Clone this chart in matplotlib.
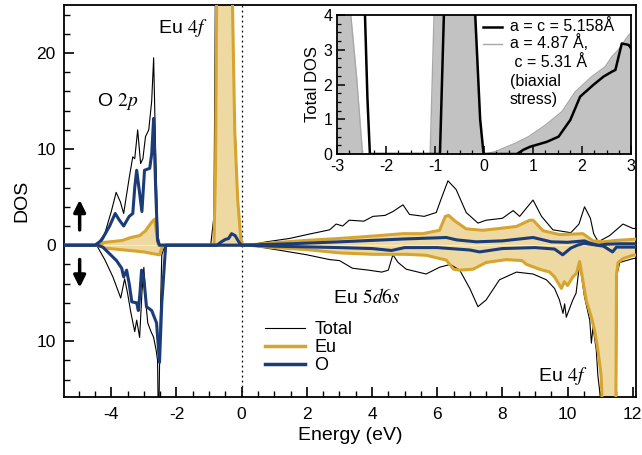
import numpy as np
import matplotlib
matplotlib.use("Agg")
import matplotlib.pyplot as plt
from matplotlib.lines import Line2D

plt.rcParams['font.family'] = ['Liberation Sans', 'DejaVu Sans']
plt.rcParams['mathtext.fontset'] = 'stix'
plt.rcParams['axes.unicode_minus'] = False

# ---- main panel data (spin up > 0, spin down < 0) ----
tot_up_e = [-5.6, -4.45, -4.2, -4.0, -3.85, -3.72, -3.62, -3.45, -3.34, -3.28, -3.19, -3.10, -3.03,
            -2.95, -2.85, -2.76, -2.70, -2.64, -2.57, -2.50, -0.95, -0.85, -0.78, -0.5, -0.35, -0.22,
            -0.12, -0.03, 0.03, 0.3, 0.76, 1.47, 2.0, 2.7, 2.9, 3.1, 3.3, 3.75, 4.03, 4.4, 4.64, 4.95,
            5.15, 5.6, 5.97, 6.13, 6.33, 6.58, 6.89, 7.25, 7.5, 8.0, 8.33, 8.53, 8.94, 9.2, 9.55, 10.1,
            10.35, 10.52, 10.7, 10.8, 10.94, 11.29, 11.7, 12.0, 12.2]
tot_up = [0, 0, 1.2, 3.5, 5.5, 4.5, 3.3, 7.0, 9.2, 9.0, 12.0, 8.5, 9.0,
          11.3, 12.0, 15.0, 19.5, 10.0, 1.0, 0, 0, 3, 40, 60, 40, 14,
          5, 1, 0, 0.05, 0.35, 0.7, 1.1, 1.6, 2.2, 2.0, 2.6, 2.5, 3.0, 3.1, 3.5, 4.2,
          3.2, 3.0, 3.4, 4.9, 6.7, 5.8, 3.4, 2.3, 2.6, 2.8, 3.6, 3.0, 4.7, 3.0, 1.6, 1.3,
          2.2, 4.0, 2.8, 1.2, 0.35, 1.0, 2.2, 1.75, 1.7]

tot_dn_e = [-5.6, -4.45, -4.2, -3.95, -3.71, -3.59, -3.5, -3.4, -3.28, -3.22, -3.13, -3.06, -3.0,
            -2.94, -2.88, -2.78, -2.70, -2.62, -2.58, -2.55, -2.50, -2.45, -2.35, 0.2, 0.76, 1.47,
            2.0, 2.7, 3.0, 3.4, 3.9, 4.3, 4.5, 4.64, 4.8, 5.05, 5.66, 6.07, 6.4, 6.69, 7.0, 7.25,
            7.5, 7.91, 8.43, 8.94, 9.35, 9.6, 9.75, 9.86, 9.91, 9.96, 10.16, 10.26, 10.37, 10.52,
            10.68, 10.73, 10.78, 10.88, 10.93, 11.03, 11.1, 11.45, 11.52, 11.6, 12.0, 12.2]
tot_dn = [0, 0, -1.5, -3.3, -5.5, -3.5, -5.0, -7.0, -9.0, -7.8, -9.6, -5.0, -2.3,
          -6.0, -8.1, -9.0, -9.6, -11, -12, -20, -8, -1, 0, 0, -0.3, -0.7,
          -1.0, -1.5, -1.6, -2.4, -2.6, -2.8, -2.6, -1.0, -1.8, -2.5, -3.0, -2.3, -2.0, -2.6, -4.5, -6.4,
          -5.7, -3.6, -2.8, -3.0, -3.6, -4.5, -5.7, -7.1, -6.1, -7.5, -5.7, -5.0, -1.9, -5.4,
          -7.8, -10.2, -8.5, -10.9, -13.6, -16.5, -30, -40, -3, -1.8, -1.4, -1.3]

eu_up_e = [-5.6, -4.4, -4.2, -3.9, -3.65, -3.4, -3.13, -2.95, -2.76, -2.67, -2.60, -2.55, -0.85,
           -0.80, -0.76, -0.5, -0.36, -0.21, -0.12, -0.03, 0.03, 0.5, 0.97, 1.98, 3.0, 4.03, 4.95,
           5.56, 6.07, 6.25, 6.35, 6.55, 6.89, 7.4, 7.8, 8.43, 8.84, 8.94, 9.25, 9.76, 10.47, 10.78,
           11.1, 11.5, 12.2]
eu_up = [0, 0, 0.3, 0.4, 0.5, 0.8, 1.0, 1.5, 2.4, 2.7, 1.0, 0, 0,
         8, 30, 60, 40, 11.7, 4.7, 0.8, 0, 0.1, 0.25, 0.5, 0.7, 0.95, 1.2,
         1.2, 1.55, 3.0, 3.1, 2.5, 1.7, 1.55, 1.7, 1.95, 2.6, 2.6, 1.5, 1.1, 1.2, 0.45,
         0.35, 0.5, 0.65]

eu_dn_e = [-5.6, -4.42, -4.2, -3.9, -3.6, -3.3, -3.0, -2.7, -2.52, -2.45, -2.4, 0.2, 0.97, 1.98,
           3.0, 4.03, 5.05, 5.66, 6.28, 6.5, 6.69, 7.1, 7.5, 8.12, 8.6, 8.74, 9.14, 9.45, 9.6, 9.81,
           9.9, 10.0, 10.16, 10.27, 10.37, 10.57, 10.73, 10.83, 10.93, 11.03, 11.1, 11.2, 11.45,
           11.5, 11.55, 11.7, 12.0, 12.2]
eu_dn = [0, 0, -0.3, -0.4, -0.5, -0.6, -0.7, -0.9, -1.0, -0.3, 0, 0, -0.25, -0.45,
         -0.8, -0.95, -0.95, -1.05, -1.55, -2.5, -2.6, -2.5, -1.8, -1.5, -1.6, -2.0, -2.5, -2.8, -3.3, -4.5,
         -3.8, -4.2, -3.3, -2.95, -1.7, -5.7, -7.5, -8.9, -10.9, -13.6, -20, -40, -40,
         -3, -1.8, -1.4, -1.05, -1.0]

o_up_e = [-5.6, -4.5, -4.3, -4.05, -3.88, -3.75, -3.62, -3.45, -3.34, -3.28, -3.22, -3.13, -3.06,
          -2.98, -2.82, -2.76, -2.70, -2.64, -2.58, -2.52, -0.76, -0.6, -0.5, -0.4, -0.31, -0.2,
          -0.08, 0.0, 0.5, 1.5, 3.0, 4.0, 5.0, 6.28, 6.6, 7.2, 8.0, 8.94, 9.5, 10.0, 10.52, 10.7,
          10.94, 11.2, 11.6, 12.2]
o_up = [0, 0, 0.5, 2.0, 3.3, 2.6, 2.0, 3.0, 3.3, 6.0, 7.8, 5.4, 3.5,
        7.8, 8.0, 9.5, 13.2, 6, 0.5, 0, 0, 0.4, 0.6, 0.7, 1.2, 1.0,
        0.3, 0, 0.05, 0.15, 0.35, 0.5, 0.65, 0.8, 0.55, 0.35, 0.45, 0.8, 0.35, 0.3, 0.45, 0.2,
        0.0, 0.1, 0.15, 0.15]

o_dn_e = [-5.6, -4.42, -4.26, -4.05, -3.84, -3.68, -3.62, -3.53, -3.45, -3.37, -3.22, -3.17, -3.12,
          -3.07, -3.0, -2.92, -2.76, -2.61, -2.52, -2.45, -2.33, 0.2, 0.97, 3.0, 4.0, 4.6, 5.0, 6.0,
          7.0, 7.3, 8.0, 9.0, 9.6, 9.85, 10.1, 10.3, 10.5, 10.8, 11.1, 11.38, 11.5, 12.2]
o_dn = [0, 0, -0.2, -0.9, -1.6, -2.4, -3.3, -2.6, -4.0, -5.9, -6.0, -6.8, -5.0,
        -2.6, -3.5, -6.4, -6.8, -8.1, -12.2, -6, 0, 0, -0.1, -0.25, -0.35, -0.55, -0.25, -0.25,
        -0.5, -0.7, -0.35, -0.25, -0.4, -1.0, -0.3, 0.0, 0.2, 0.05, -0.1, -0.7, -0.2, -0.2]

# ---- inset data (total DOS near the gap) ----
ins_a_e = [-3.0, -2.6, -2.43, -2.38, -2.33, -0.90, -0.86, -0.82, -0.6, -0.3, -0.18, -0.08, -0.01,
           0.67, 0.8, 0.94, 1.28, 1.52, 1.76, 1.96, 2.23, 2.44, 2.61, 2.68, 2.81, 2.95, 3.0]
ins_a = [12, 8, 4, 1.6, 0, 0, 2.0, 4, 8, 8, 4, 1.0, 0,
         0, 0.12, 0.21, 0.35, 0.5, 0.98, 1.65, 1.99, 2.23, 2.37, 2.42, 3.18, 3.14, 3.04]
ins_b_e = [-3.0, -2.72, -2.6, -2.48, -1.10, -1.02, -0.6, -0.2, -0.1, -0.03, 0.08, 0.23, 0.64, 0.91,
           1.25, 1.59, 1.86, 2.2, 2.47, 2.61, 2.74, 2.95, 3.0]
ins_b = [12, 4, 2.2, 0, 0, 4, 10, 4, 1.5, 0, 0.02, 0.07, 0.31, 0.5,
         0.83, 1.22, 1.79, 2.23, 2.51, 2.8, 3.0, 3.42, 3.47]

gold = '#d6a530'
gold_fill = '#efd9a2'
navy = '#1c3c78'
grey_line = '#a8a8a8'

fig = plt.figure(figsize=(6.42, 4.55), dpi=100)
ax = fig.add_axes([0.0997, 0.1275, 0.8910, 0.8615])

ax.fill_between(eu_up_e, eu_up, 0, color=gold_fill, lw=0, zorder=1)
ax.fill_between(eu_dn_e, eu_dn, 0, color=gold_fill, lw=0, zorder=1)
ax.plot(tot_up_e, tot_up, color='black', lw=0.8, zorder=2)
ax.plot(tot_dn_e, tot_dn, color='black', lw=0.8, zorder=2)
ax.plot(eu_up_e, eu_up, color=gold, lw=2.2, zorder=3)
ax.plot(eu_dn_e, eu_dn, color=gold, lw=2.2, zorder=3)
ax.plot(o_up_e, o_up, color=navy, lw=2.2, zorder=4)
ax.plot(o_dn_e, o_dn, color=navy, lw=2.2, zorder=4)
ax.axvline(0, color='black', lw=0.9, ls=(0, (1.5, 2.5)), zorder=0)

ax.set_xlim(-5.45, 12.1)
ax.set_ylim(-15.8, 25)
ax.set_xticks([-4, -2, 0, 2, 4, 6, 8, 10, 12])
ax.set_xticks(np.arange(-5, 12.01, 0.5), minor=True)
ax.set_yticks([-10, 0, 10, 20])
ax.set_yticklabels(['10', '0', '10', '20'])
ax.set_yticks(np.arange(-14, 25, 2), minor=True)
ax.tick_params(which='both', direction='in', labelsize=12.5, top=False, right=False)
ax.tick_params(axis='x', which='major', pad=7)
ax.tick_params(axis='y', which='major', pad=6)
ax.tick_params(which='major', length=7, width=1.2)
ax.tick_params(which='minor', length=4, width=1.0)
for s in ax.spines.values():
    s.set_linewidth(1.3)
ax.set_xlabel('Energy (eV)', fontsize=14, labelpad=4)
ax.set_ylabel('DOS', fontsize=14, labelpad=4)

ax.text(-2.58, 22.6, r'Eu $\mathit{4f}$', fontsize=14, va='center')
ax.text(-4.45, 15.0, r'O $\mathit{2p}$', fontsize=14, va='center')
ax.text(2.8, -5.4, r'Eu $\mathit{5d6s}$', fontsize=14, va='center')
ax.text(9.1, -13.6, r'Eu $\mathit{4f}$', fontsize=14, va='center')

ax.annotate('', xy=(-4.97, 5.0), xytext=(-4.97, 1.3),
            arrowprops=dict(arrowstyle='-|>,head_width=0.35,head_length=0.7', color='black', lw=2.5))
ax.annotate('', xy=(-4.97, -4.7), xytext=(-4.97, -1.2),
            arrowprops=dict(arrowstyle='-|>,head_width=0.35,head_length=0.7', color='black', lw=2.5))

handles = [Line2D([], [], color='black', lw=0.8),
           Line2D([], [], color=gold, lw=2.5),
           Line2D([], [], color=navy, lw=2.5)]
ax.legend(handles, ['Total', 'Eu', 'O'], loc='upper left', bbox_to_anchor=(0.33, 0.225),
          frameon=False, fontsize=13, handlelength=2.2, handletextpad=0.5,
          labelspacing=0.05, borderpad=0.2)

# ---- inset ----
ins = fig.add_axes([0.525, 0.6615, 0.458, 0.3055])
ins.fill_between(ins_b_e, ins_b, 0, color='#c2c2c2', lw=0)
ins.plot(ins_b_e, ins_b, color=grey_line, lw=1.0)
ins.plot(ins_a_e, ins_a, color='black', lw=1.8)
ins.set_xlim(-3, 3)
ins.set_ylim(0, 4)
ins.set_xticks(np.arange(-3, 4, 1))
ins.set_xticks(np.arange(-3, 3.01, 0.25), minor=True)
ins.set_yticks(np.arange(0, 5, 1))
ins.set_yticks(np.arange(0, 4.01, 0.25), minor=True)
ins.tick_params(which='both', direction='in', labelsize=11.5)
ins.tick_params(which='major', length=6, width=1.1)
ins.tick_params(which='minor', length=3, width=0.9)
for s in ins.spines.values():
    s.set_linewidth(1.3)
ins.set_ylabel('Total DOS', fontsize=12, labelpad=2)

# legend of the inset, laid out by hand so the grey key sits on the first line
ins.plot([0.497, 0.561], [0.914, 0.914], color='black', lw=1.8, transform=ins.transAxes)
ins.plot([0.497, 0.561], [0.795, 0.795], color=grey_line, lw=1.0, transform=ins.transAxes)
ins.text(0.588, 0.914, 'a = c = 5.158Å', transform=ins.transAxes, fontsize=11.5, va='center')
ins.text(0.588, 0.86, 'a = 4.87 Å,\n c = 5.31 Å\n(biaxial\nstress)', transform=ins.transAxes,
         fontsize=11.5, va='top', linespacing=1.3)

fig.savefig('out.png', dpi=100)
